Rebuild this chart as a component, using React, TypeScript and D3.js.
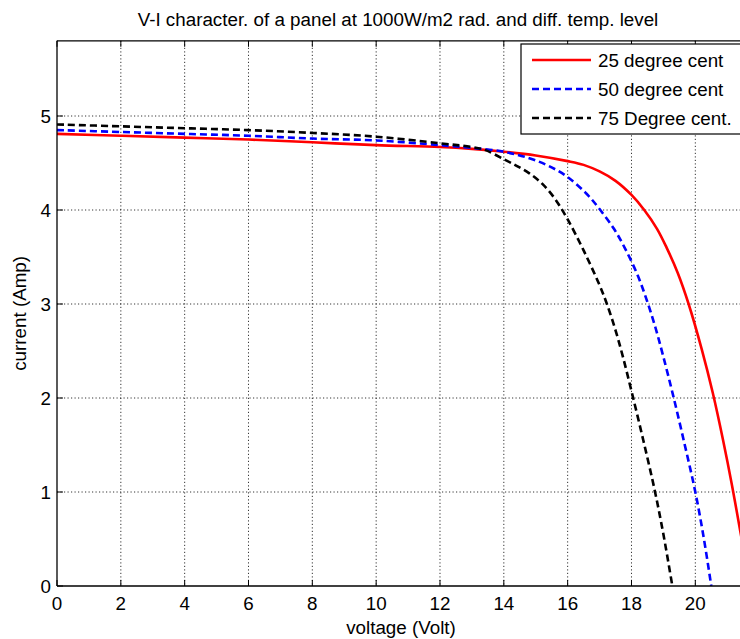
import React from "react";
import * as d3 from "d3";

const xTicks = [0, 2, 4, 6, 8, 10, 12, 14, 16, 18, 20];
const yTicks = [0, 1, 2, 3, 4, 5];

const v25 = [0, 2, 4, 6, 8, 10, 12, 13, 14, 15, 16, 16.5, 17, 17.5, 18, 18.4, 18.8, 19.1, 19.45, 19.79, 20.2, 20.55, 20.87, 21.15, 21.41, 21.5];
const i25 = [4.81, 4.79, 4.77, 4.75, 4.72, 4.69, 4.67, 4.65, 4.62, 4.58, 4.52, 4.48, 4.41, 4.31, 4.16, 4.0, 3.8, 3.6, 3.33, 3.0, 2.52, 2.05, 1.55, 1.07, 0.58, 0.41];

const v50 = [0, 2, 4, 6, 8, 10, 12, 13, 14, 14.8, 15.4, 16, 16.6, 17.0, 17.45, 17.8, 18.2, 18.5, 18.75, 18.99, 19.31, 19.67, 20.0, 20.27, 20.5];
const i50 = [4.85, 4.83, 4.81, 4.79, 4.76, 4.74, 4.69, 4.66, 4.62, 4.55, 4.47, 4.35, 4.17, 4.01, 3.8, 3.59, 3.3, 3.02, 2.75, 2.45, 2.02, 1.5, 1.0, 0.5, 0.0];

const v75 = [0, 2, 4, 6, 8, 10, 12, 13, 13.4, 14, 14.4, 14.8, 15.2, 15.6, 16, 16.5, 17.0, 17.23, 17.5, 17.73, 18.01, 18.37, 18.72, 19.0, 19.28];
const i75 = [4.91, 4.89, 4.87, 4.85, 4.82, 4.78, 4.71, 4.67, 4.64, 4.54, 4.47, 4.39, 4.28, 4.12, 3.9, 3.57, 3.2, 3.0, 2.72, 2.44, 2.06, 1.55, 1.03, 0.55, 0.0];

const seriesNames = ["25 degree cent", "50 degree cent", "75 Degree cent."];
const seriesColors = ["#ff0000", "#0000ff", "#000000"];
const seriesDash = [null, "7,4", "7,4"];

const W = 740;
const H = 639;
const left = 57;
const right = 740;
const top = 40.8;
const bottom = 586;

export default function App() {
  const x = d3.scaleLinear().domain([0, 21.4]).range([left, right]);
  const y = d3.scaleLinear().domain([0, 5.8]).range([bottom, top]);
  const line = d3
    .line<[number, number]>()
    .x((d) => x(d[0]))
    .y((d) => y(d[1]))
    .curve(d3.curveCatmullRom.alpha(0.5));

  const series = [
    v25.map((v, i) => [v, i25[i]] as [number, number]),
    v50.map((v, i) => [v, i50[i]] as [number, number]),
    v75.map((v, i) => [v, i75[i]] as [number, number]),
  ];

  const font = "'Liberation Sans', Arial, Helvetica, sans-serif";
  const legX = 521;
  const legY = 44;
  const rowY = [60, 89, 118];
  const fs = 18.8;

  return (
    <svg
      width={W}
      height={H}
      style={{ position: "absolute", left: 0, top: 0, background: "#fff" }}
      fontFamily={font}
    >
      <defs>
        <clipPath id="plotclip">
          <rect x={left} y={top} width={right - left + 2} height={bottom - top} />
        </clipPath>
      </defs>
      <rect x={0} y={0} width={W} height={H} fill="#fff" />
      {/* grid */}
      {xTicks.slice(1).map((t) => (
        <line key={"gx" + t} x1={x(t)} x2={x(t)} y1={top} y2={bottom} stroke="#000" strokeWidth={0.8} strokeDasharray="1.2,2.3" />
      ))}
      {yTicks.slice(1).map((t) => (
        <line key={"gy" + t} x1={left} x2={right} y1={y(t)} y2={y(t)} stroke="#000" strokeWidth={0.8} strokeDasharray="1.2,2.3" />
      ))}
      {/* ticks */}
      {xTicks.map((t) => (
        <g key={"tx" + t}>
          <line x1={x(t)} x2={x(t)} y1={bottom} y2={bottom - 6} stroke="#000" />
          <line x1={x(t)} x2={x(t)} y1={top} y2={top + 6} stroke="#000" />
          <text x={x(t)} y={609.5} fontSize={fs} textAnchor="middle" fill="#000">
            {t}
          </text>
        </g>
      ))}
      {yTicks.map((t) => (
        <g key={"ty" + t}>
          <line x1={left} x2={left + 6} y1={y(t)} y2={y(t)} stroke="#000" />
          <text x={51} y={y(t) + 6.8} fontSize={fs} textAnchor="end" fill="#000">
            {t}
          </text>
        </g>
      ))}
      {/* curves */}
      <g clipPath="url(#plotclip)">
        {series.map((s, k) => (
          <path
            key={"s" + k}
            d={line(s) || ""}
            fill="none"
            stroke={seriesColors[k]}
            strokeWidth={2.6}
            strokeDasharray={seriesDash[k] || undefined}
          />
        ))}
      </g>
      {/* axes border */}
      <line x1={left} x2={right + 2} y1={top} y2={top} stroke="#000" strokeWidth={1.3} />
      <line x1={left} x2={right + 2} y1={bottom} y2={bottom} stroke="#000" strokeWidth={1.3} />
      <line x1={left} x2={left} y1={top} y2={bottom} stroke="#000" strokeWidth={1.3} />
      {/* legend */}
      <rect x={legX} y={legY} width={240} height={90} fill="#fff" stroke="#000" strokeWidth={1.2} />
      {seriesNames.map((n, k) => (
        <g key={"l" + k}>
          <line
            x1={532}
            x2={591}
            y1={rowY[k]}
            y2={rowY[k]}
            stroke={seriesColors[k]}
            strokeWidth={2.6}
            strokeDasharray={seriesDash[k] || undefined}
          />
          <text x={598} y={rowY[k] + 6.8} fontSize={fs} fill="#000">
            {n}
          </text>
        </g>
      ))}
      {/* title & labels */}
      <text x={398} y={26} fontSize={fs} textAnchor="middle" fill="#000">
        V-I character. of a panel at 1000W/m2 rad. and diff. temp. level
      </text>
      <text x={401} y={634} fontSize={fs} textAnchor="middle" fill="#000">
        voltage (Volt)
      </text>
      <text transform={`translate(26,${(top + bottom) / 2}) rotate(-90)`} fontSize={fs} textAnchor="middle" fill="#000">
        current (Amp)
      </text>
    </svg>
  );
}
